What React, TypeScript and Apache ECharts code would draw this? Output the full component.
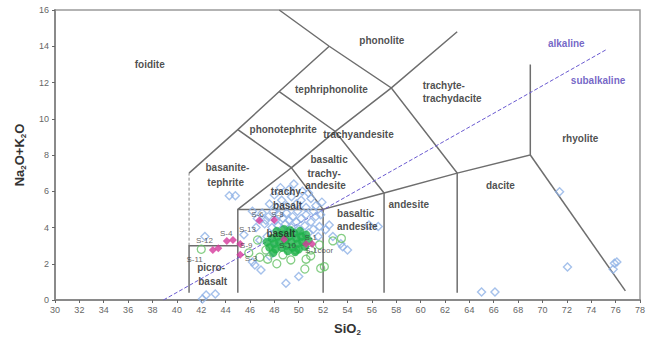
import React, { useEffect, useRef } from "react";
import * as echarts from "echarts";

// ---- data (SiO2 wt%, Na2O+K2O wt%) ----
const blueDiamonds: number[][] = [
  [46.2, 4.9], [46.6, 4.5], [47.0, 4.8], [47.2, 4.2], [47.5, 4.6], [47.8, 4.0], [47.9, 4.9], [48.1, 4.4],
  [48.3, 4.1], [48.4, 4.7], [48.6, 3.9], [48.7, 4.5], [48.9, 4.2], [49.0, 4.8], [49.1, 3.8], [49.2, 4.4],
  [49.4, 4.0], [49.5, 4.6], [49.6, 3.6], [49.8, 4.3], [49.9, 4.9], [50.0, 3.9], [50.2, 4.5], [50.3, 3.5],
  [50.5, 4.1], [50.6, 4.7], [50.8, 3.7], [51.0, 4.3], [51.2, 3.9], [51.4, 4.6], [51.6, 3.5], [51.7, 4.05],
  [52.2, 3.87], [52.5, 4.14], [52.8, 3.5], [53.6, 2.94], [54.0, 2.76], [53.45, 3.1], [47.4, 3.5], [46.8, 3.3],
  [48.0, 3.2], [46.4, 1.93], [47.6, 2.43], [48.95, 0.92], [42.4, 0.27], [45.5, 3.6], [46.2, 2.1], [46.9, 1.66],
  [50.0, 1.3], [48.2, 5.1], [48.6, 5.5], [49.0, 5.2], [49.4, 5.7], [49.8, 5.3], [50.2, 5.5], [50.6, 5.1],
  [51.0, 5.6], [51.4, 5.2], [50.8, 5.9], [51.9, 5.4], [47.6, 5.3], [48.0, 5.8], [49.2, 6.1], [51.2, 4.9],
  [51.8, 4.7], [44.3, 5.75], [44.8, 5.75], [42.3, 3.5], [55.76, 4.14], [56.52, 4.05], [71.4, 5.97],
  [72.05, 1.82], [75.9, 2.03], [75.8, 1.7], [76.1, 2.1], [65.0, 0.44], [66.1, 0.44], [42.1, 0.05], [43.15, 0.33],
  [49.6, 6.4], [50.3, 6.0], [48.5, 6.2], [47.3, 4.4], [46.5, 4.0],
];

const greenCircles: number[][] = [
  [52.8, 3.26], [50.98, 2.43], [50.6, 2.25], [52.1, 1.84], [50.5, 1.71], [48.7, 2.49], [47.45, 2.25],
  [46.8, 2.36], [47.3, 2.76], [49.75, 2.76], [49.35, 2.21], [42.0, 2.8], [51.7, 3.04], [51.8, 1.75],
  [51.0, 2.76], [45.9, 2.6], [46.62, 3.31], [48.2, 2.0], [53.5, 3.4],
];

const greenFilled: number[][] = [
  [47.4, 3.2], [47.6, 2.9], [47.8, 3.4], [48.0, 3.1], [48.1, 2.8], [48.3, 3.5], [48.4, 3.2], [48.6, 2.9],
  [48.7, 3.6], [48.9, 3.3], [49.0, 3.0], [49.1, 2.7], [49.2, 3.5], [49.4, 3.2], [49.5, 2.9], [49.6, 3.7],
  [49.8, 3.4], [49.9, 3.1], [50.0, 2.8], [50.2, 3.5], [50.3, 3.2], [50.5, 2.95], [50.6, 3.6], [50.8, 3.3],
  [48.2, 3.8], [48.8, 3.9], [49.3, 3.85], [47.9, 2.6], [50.1, 3.8], [49.7, 2.65],
];

const magentaDiamonds: number[][] = [
  [46.76, 4.38], [47.99, 4.42], [44.1, 3.26], [44.6, 3.31], [45.2, 3.09], [42.95, 2.76], [43.4, 2.85],
  [45.2, 2.49], [48.8, 3.35], [50.6, 3.09], [51.1, 3.09],
];

const sampleNames = ["S-6", "S-8", "S-4", "S-13", "S-12", "S-11", "S-3", "S-9", "S-10", "S-1", "S-1coor"];
const sampleAnchors: number[][] = [
  [46.62, 4.7], [48.26, 4.73], [44.04, 3.68], [45.8, 3.87], [42.26, 3.31], [41.45, 2.25], [46.08, 2.3],
  [45.7, 2.98], [49.08, 2.98], [50.99, 3.44], [51.67, 2.72],
];

// TAS field boundaries (Le Bas et al. 1986)
const boundaries: number[][][] = [
  [[48.4, 16], [52.5, 14], [57.6, 11.7], [63, 7], [63, 0.4]],
  [[41, 7], [45, 9.4], [48.4, 11.5], [52.5, 14]],
  [[45, 9.4], [49.4, 7.3], [53, 9.3], [57.6, 11.7], [63, 14.8]],
  [[48.4, 11.5], [53, 9.3], [57, 5.9]],
  [[45, 0.4], [45, 5], [49.4, 7.3], [52, 5], [45, 5]],
  [[52, 0.4], [52, 5], [57, 5.9], [63, 7], [69, 8], [69, 13]],
  [[57, 0.4], [57, 5.9]],
  [[69, 8], [76.8, 0.5]],
  [[41, 0.4], [41, 3], [45, 3]],
];
const dashedBoundary: number[][][] = [[[41, 3], [41, 7]]];
const alkalineLine: number[][] = [[38.9, 0], [75.2, 13.8]];

const fieldLabels: string[] = [
  "foidite", "phonolite", "tephriphonolite", "phonotephrite", "trachyandesite", "rhyolite", "dacite",
  "andesite", "basaltic", "andesite", "basaltic", "trachy-", "andesite", "trachy-", "basalt", "basalt",
  "basanite-", "tephrite", "picro-", "basalt",
];
const fieldAnchors: number[][] = [
  [37.77, 12.98], [56.82, 14.33], [52.68, 11.64], [48.72, 9.39], [54.9, 9.12], [73.1, 8.9], [66.55, 6.3],
  [59.03, 5.25], [54.67, 4.79], [54.8, 4.05], [52.49, 7.73], [52.08, 7.0], [52.2, 6.3], [49.08, 5.98],
  [49.08, 5.2], [48.53, 3.65], [44.15, 7.3], [44.0, 6.46], [42.81, 1.78], [42.94, 1.02],
];
const leftLabels: string[] = ["trachyte-", "trachydacite"];
const leftAnchors: number[][] = [[60.17, 11.86], [60.17, 11.1]];
const seriesLabels: string[] = ["alkaline", "subalkaline"];
const seriesLabelAnchors: number[][] = [[71.95, 14.14], [74.56, 12.12]];

const xTicks = { min: 30, max: 78, interval: 2 };
const yTicks = { min: 0, max: 16, interval: 2 };

const FONT = "Liberation Sans";

export default function App() {
  const ref = useRef<HTMLDivElement>(null);
  useEffect(() => {
    document.body.style.margin = "0";
    const chart = echarts.init(ref.current!, null, { renderer: "svg" });
    const labelSeries = (names: string[], anchors: number[][], style: any, z: number) => ({
      type: "scatter",
      symbolSize: 0,
      z,
      silent: true,
      data: names.map((n, i) => ({ name: n, value: anchors[i] })),
      label: {
        show: true,
        position: "inside",
        formatter: (p: any) => p.name,
        fontFamily: FONT,
        ...style,
      },
    });
    chart.setOption({
      animation: false,
      backgroundColor: "#ffffff",
      grid: { left: 55, right: 6, top: 10, bottom: 41, show: true, borderColor: "#9a9a9a", borderWidth: 1.5 },
      xAxis: {
        type: "value",
        min: xTicks.min,
        max: xTicks.max,
        interval: xTicks.interval,
        name: "SiO{s|2}",
        nameLocation: "middle",
        nameGap: 20,
        nameTextStyle: {
          fontFamily: FONT, fontSize: 13, fontWeight: "bold", color: "#333",
          rich: { s: { fontSize: 8, fontWeight: "bold", color: "#333", fontFamily: FONT, verticalAlign: "bottom", padding: [8, 0, 0, 0] } },
        },
        splitLine: { show: false },
        axisLine: { onZero: false, lineStyle: { color: "#8a8a8a", width: 2 } },
        axisTick: { show: true, length: 3, lineStyle: { color: "#666" } },
        axisLabel: { fontFamily: FONT, fontSize: 9, color: "#666", margin: 5 },
      },
      yAxis: {
        type: "value",
        min: yTicks.min,
        max: yTicks.max,
        interval: yTicks.interval,
        name: "Na{s|2}O+K{s|2}O",
        nameLocation: "middle",
        nameRotate: 90,
        nameGap: 28,
        nameTextStyle: {
          fontFamily: FONT, fontSize: 13, fontWeight: "bold", color: "#333",
          rich: { s: { fontSize: 8, fontWeight: "bold", color: "#333", fontFamily: FONT, verticalAlign: "bottom", padding: [8, 0, 0, 0] } },
        },
        splitLine: { show: false },
        axisLine: { lineStyle: { color: "#8a8a8a", width: 2 } },
        axisTick: { show: true, length: 3, lineStyle: { color: "#666" } },
        axisLabel: { fontFamily: FONT, fontSize: 9, color: "#666", margin: 6 },
      },
      series: [
        {
          type: "lines",
          coordinateSystem: "cartesian2d",
          polyline: true,
          silent: true,
          z: 2,
          lineStyle: { color: "#6e6e6e", width: 1.5, opacity: 1 },
          data: boundaries.map((c) => ({ coords: c })),
        },
        {
          type: "lines",
          coordinateSystem: "cartesian2d",
          polyline: true,
          silent: true,
          z: 2,
          lineStyle: { color: "#888", width: 1, type: [3, 2], opacity: 1 },
          data: dashedBoundary.map((c) => ({ coords: c })),
        },
        {
          type: "lines",
          coordinateSystem: "cartesian2d",
          polyline: true,
          silent: true,
          z: 3,
          lineStyle: { color: "#6a5ad0", width: 1, type: [4, 2], opacity: 1 },
          data: [{ coords: alkalineLine }],
        },
        {
          type: "scatter",
          z: 4,
          symbol: "diamond",
          symbolSize: 8,
          itemStyle: { color: "rgba(255,255,255,0)", borderColor: "#8fb2e6", borderWidth: 1.4 },
          data: blueDiamonds,
        },
        {
          type: "scatter",
          z: 5,
          symbol: "circle",
          symbolSize: 8,
          itemStyle: { color: "rgba(255,255,255,0)", borderColor: "#66c266", borderWidth: 1.3 },
          data: greenCircles,
        },
        {
          type: "scatter",
          z: 6,
          symbol: "circle",
          symbolSize: 8,
          itemStyle: { color: "#1fb24a", borderColor: "#1fb24a", borderWidth: 0.5 },
          data: greenFilled,
        },
        {
          type: "scatter",
          z: 7,
          symbol: "diamond",
          symbolSize: 8,
          itemStyle: { color: "#d5389b" },
          data: magentaDiamonds,
        },
        labelSeries(fieldLabels, fieldAnchors, { fontSize: 10, fontWeight: "bold", color: "#222" }, 8),
        labelSeries(leftLabels, leftAnchors, { fontSize: 10, fontWeight: "bold", color: "#222", position: "right", distance: 0 }, 8),
        labelSeries(seriesLabels, seriesLabelAnchors, { fontSize: 10, fontWeight: "bold", color: "#5240b8" }, 8),
        labelSeries(sampleNames, sampleAnchors, { fontSize: 8, color: "#3a3a3a" }, 9),
      ],
    });
    return () => chart.dispose();
  }, []);
  return <div ref={ref} style={{ width: 648, height: 341 }} />;
}
